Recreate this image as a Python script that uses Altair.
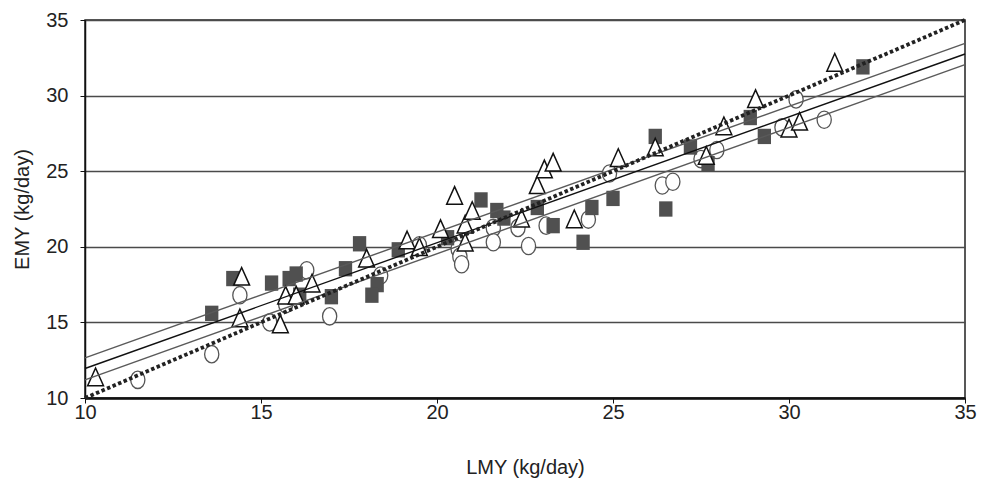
import altair as alt
import pandas as pd

# Series
sq_x = [13.6, 14.2, 15.3, 15.8, 16.0, 16.1, 17.0, 17.4, 17.8, 18.3, 18.15, 18.9, 20.3, 21.25,
        21.7, 21.9, 22.85, 23.3, 24.15, 24.4, 25.0, 26.2, 26.5, 27.2, 27.7, 28.9, 29.3, 32.1]
sq_y = [15.6, 17.9, 17.6, 17.9, 18.2, 16.8, 16.7, 18.55, 20.2, 17.5, 16.8, 19.8, 20.6, 23.1,
        22.4, 21.9, 22.6, 21.4, 20.3, 22.6, 23.2, 27.3, 22.5, 26.6, 25.5, 28.55, 27.3, 31.9]

ci_x = [11.5, 13.6, 14.4, 15.25, 15.7, 16.3, 16.95, 18.4, 19.5, 20.6, 20.65, 20.7, 21.6, 21.6,
        22.3, 22.6, 23.1, 24.3, 24.9, 26.4, 26.7, 27.5, 27.95, 29.8, 30.2, 31.0]
ci_y = [11.2, 12.9, 16.8, 15.0, 16.2, 18.45, 15.4, 18.1, 20.1, 19.85, 19.35, 18.85, 21.25, 20.3,
        21.25, 20.05, 21.4, 21.8, 24.85, 24.05, 24.3, 25.8, 26.4, 27.9, 29.75, 28.4]

tr_x = [10.3, 14.4, 14.45, 15.55, 15.7, 16.0, 16.45, 18.0, 19.15, 19.5, 20.1, 20.5, 20.8, 20.8,
        21.0, 22.4, 22.85, 23.05, 23.3, 23.9, 25.15, 26.2, 27.65, 28.15, 29.05, 30.0, 30.3, 31.3]
tr_y = [11.4, 15.3, 18.05, 14.9, 16.8, 16.8, 17.6, 19.25, 20.45, 20.0, 21.2, 23.4, 21.5, 20.3,
        22.4, 21.9, 24.1, 25.15, 25.6, 21.85, 25.9, 26.6, 26.05, 28.0, 29.8, 27.85, 28.3, 32.2]

# Regression / identity lines (end points)
line_x = [10, 35]
upper_y = [12.65, 33.45]
mid_y = [11.95, 32.75]
lower_y = [11.2, 32.05]
ident_y = [10, 35]

FONT = "Liberation Sans"
FS = 20

xs = alt.Scale(domain=[10, 35], nice=False, zero=False)
ys = alt.Scale(domain=[10, 35], nice=False, zero=False)

xaxis = alt.Axis(values=[10, 15, 20, 25, 30, 35], title="LMY (kg/day)", grid=False,
                 tickSize=5, labelPadding=-1, titlePadding=35, domainWidth=2.5,
                 labelFlush=False, domainColor="#111", tickColor="#111",
                 labelFontSize=FS, titleFontSize=FS,
                 labelColor="#222", titleColor="#222", labelFont=FONT, titleFont=FONT,
                 titleFontWeight="normal")
yaxis = alt.Axis(values=[10, 15, 20, 25, 30, 35], title="EMY (kg/day)", grid=True,
                 gridColor="#4a4a4a", gridWidth=1.4, tickSize=5, labelPadding=12,
                 labelFlush=False, titlePadding=13, domainWidth=1.5, domainColor="#111",
                 tickColor="#111", labelFontSize=FS, titleFontSize=FS, labelColor="#222",
                 titleColor="#222", labelFont=FONT, titleFont=FONT, titleFontWeight="normal")

sq_df = pd.DataFrame({"x": sq_x, "y": sq_y})
ci_df = pd.DataFrame({"x": ci_x, "y": ci_y})
tr_df = pd.DataFrame({"x": tr_x, "y": tr_y})

base_axes = alt.Chart(sq_df).mark_point(opacity=0).encode(
    x=alt.X("x:Q", scale=xs, axis=xaxis),
    y=alt.Y("y:Q", scale=ys, axis=yaxis),
)

ellipse = "M0,-1A0.82,1 0 1,1 0,1A0.82,1 0 1,1 0,-1Z"
circles = alt.Chart(ci_df).mark_point(
    shape=ellipse, size=300, filled=True, fill="white", stroke="#555",
    strokeWidth=1.3, opacity=1
).encode(x=alt.X("x:Q", scale=xs), y=alt.Y("y:Q", scale=ys))

rect = "M-0.87,-1L0.87,-1L0.87,1L-0.87,1Z"
squares = alt.Chart(sq_df).mark_point(
    shape=rect, size=235, filled=True, fill="#505050", strokeWidth=0, opacity=1
).encode(x=alt.X("x:Q", scale=xs), y=alt.Y("y:Q", scale=ys))

tri = "M0,-1L0.9,1L-0.9,1Z"
triangles = alt.Chart(tr_df).mark_point(
    shape=tri, size=310, filled=True, fill="white", stroke="#111",
    strokeWidth=1.5, opacity=1
).encode(x=alt.X("x:Q", scale=xs), y=alt.Y("y:Q", scale=ys))


def line(yvals, **kw):
    df = pd.DataFrame({"x": line_x, "y": yvals})
    return alt.Chart(df).mark_line(**kw).encode(
        x=alt.X("x:Q", scale=xs), y=alt.Y("y:Q", scale=ys))


upper = line(upper_y, color="#5a5a5a", strokeWidth=1.4)
lower = line(lower_y, color="#5a5a5a", strokeWidth=1.4)
mid = line(mid_y, color="#111", strokeWidth=1.4)
ident = line(ident_y, color="#222", strokeWidth=3.8, strokeDash=[3.5, 2.5], strokeCap="butt")

chart = alt.layer(base_axes, circles, squares, triangles, upper, lower, mid, ident).properties(
    width=880, height=378,
    padding={"left": 77, "top": 12, "right": 20, "bottom": 81},
    autosize=alt.AutoSizeParams(type="none"),
).configure_view(stroke="#222", strokeWidth=1.5)

chart.save("out.html", embed_options={"renderer": "svg", "actions": False})
